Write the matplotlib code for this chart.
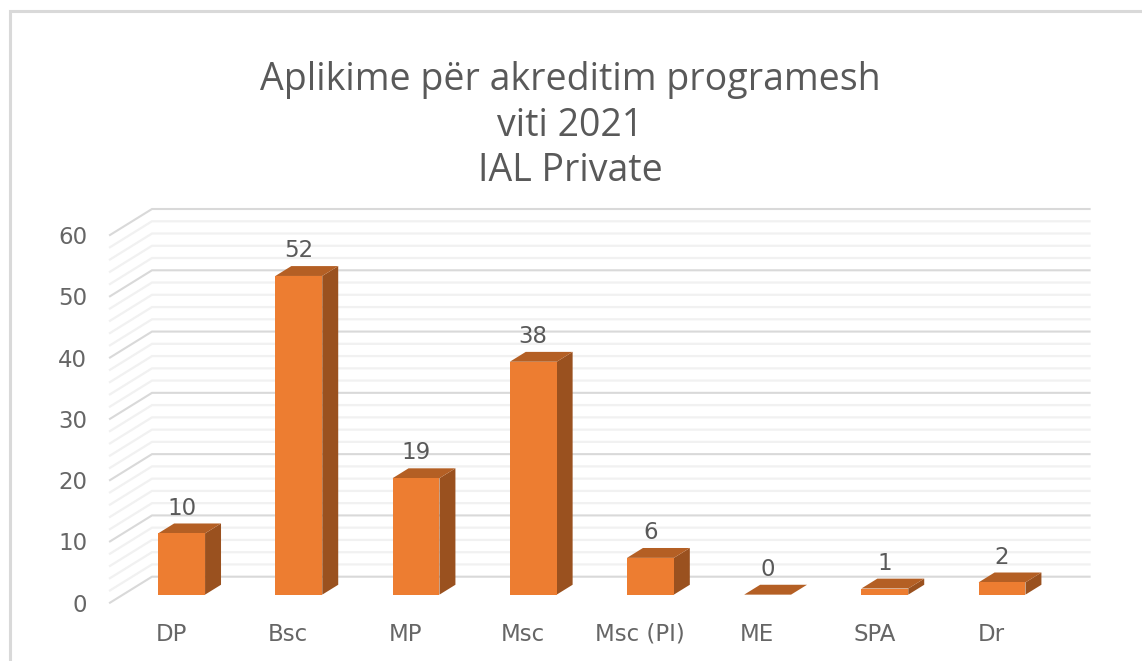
import matplotlib
matplotlib.use("Agg")
import matplotlib.pyplot as plt
from matplotlib.lines import Line2D
from matplotlib.patches import Polygon
from matplotlib.transforms import offset_copy

categories = ["DP", "Bsc", "MP", "Msc", "Msc (PI)", "ME", "SPA", "Dr"]
values = [10, 52, 19, 38, 6, 0, 1, 2]
y_ticks = [0, 10, 20, 30, 40, 50, 60]
minor_ticks = [2, 4, 6, 8, 12, 14, 16, 18, 22, 24, 26, 28, 32, 34, 36, 38, 42, 44, 46, 48, 52, 54, 56, 58]
title = "Aplikime për akreditim programesh\nviti 2021\nIAL Private"

W, H = 1142, 661
plt.rcParams["font.family"] = ["DejaVu Sans"]
fig = plt.figure(figsize=(W / 100, H / 100), dpi=100, facecolor="white")
ax = fig.add_axes([110 / W, 1 - 602.7 / H, 937.6 / W, 367.7 / H])
ax.set_xlim(-0.5, 7.5)
ax.set_ylim(0, 60)
for s in ax.spines.values():
    s.set_visible(False)
ax.patch.set_visible(False)

DX = 42 / 117.2   # wall depth in category units
DY = 26 / 6.128   # wall depth in value units
FRONT, BACK = 0.31, 0.69   # bar depth as share of wall depth
BW = 0.40
FRONT_C, SIDE_C, TOP_C = "#ED7D31", "#9A511F", "#B45F24"

def P(x, v, d):
    return (x + d * DX, v + d * DY)

x0, x1 = -0.5, 7.5
for v, col, lw in [(t, "#F1F1F1", 1.6) for t in minor_ticks] + [(t, "#D9D9D9", 1.5) for t in y_ticks]:
    a, b, c = P(x0, v, 0), P(x0, v, 1), P(x1, v, 1)
    ax.plot([a[0], b[0], c[0]], [a[1], b[1], c[1]], color=col, lw=lw, clip_on=False,
            solid_joinstyle="miter", zorder=2 if col == "#D9D9D9" else 1)

for i, v in enumerate(values):
    l, r = i - BW / 2, i + BW / 2
    side = [P(r, 0, FRONT), P(r, 0, BACK), P(r, v, BACK), P(r, v, FRONT)]
    top = [P(l, v, FRONT), P(r, v, FRONT), P(r, v, BACK), P(l, v, BACK)]
    front = P(l, 0, FRONT)
    ax.bar(front[0], v, width=BW, bottom=front[1], align="edge", color=FRONT_C, zorder=5, clip_on=False)
    ax.add_patch(Polygon(side, closed=True, fc=SIDE_C, ec="none", zorder=4, clip_on=False))
    ax.add_patch(Polygon(top, closed=True, fc=TOP_C, ec="none", zorder=4, clip_on=False))
    cx, cy = P(i, v, FRONT)
    ax.annotate(str(v), (cx, cy), xytext=(0, 18.2), textcoords="offset points", ha="center", va="center",
                fontsize=16.5, color="#595959", zorder=6, annotation_clip=False)

ax.set_yticks(y_ticks)
ax.set_yticklabels([str(t) for t in y_ticks])
ax.tick_params(axis="y", length=0, pad=16.5, labelsize=16.5, labelcolor="#666666")
ax.set_xticks(range(len(categories)))
ax.set_xticklabels(categories)
ax.tick_params(axis="x", length=0, pad=14.5, labelsize=16.5, labelcolor="#666666")
for lab in ax.get_xticklabels():
    lab.set_transform(offset_copy(lab.get_transform(), fig=fig, x=2.4, y=0, units="dots"))

fig.text(570 / W, 1 - 125.5 / H, title, ha="center", va="center", fontsize=27, color="#595959",
         linespacing=1.27, family=["Open Sans", "DejaVu Sans"])

fig.add_artist(Line2D([10 / W, 10 / W, 1], [0, 1 - 11 / H, 1 - 11 / H], color="#D9D9D9", lw=2.2,
                      solid_joinstyle="miter"))

fig.savefig("out.png", dpi=100, facecolor="white")
